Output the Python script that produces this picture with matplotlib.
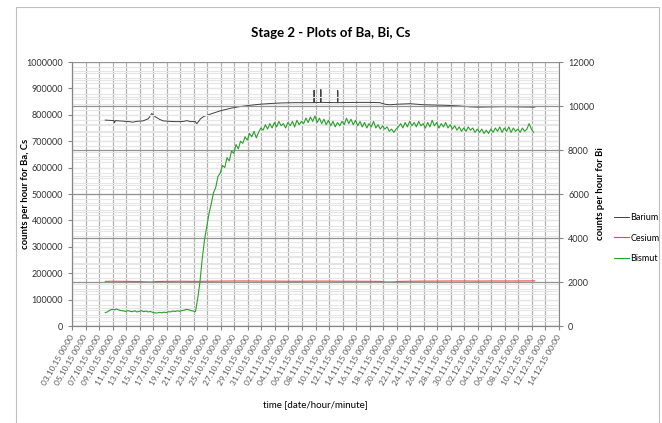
import matplotlib
matplotlib.use('Agg')
import matplotlib.pyplot as plt
import matplotlib.dates as mdates
from matplotlib.patches import Rectangle
from matplotlib.ticker import MultipleLocator, FuncFormatter
import pandas as pd

# ------------------------------------------------------------
# Данные
# ------------------------------------------------------------
barium_times = [
    "07.10.15 22:00", "08.10.15 12:00", "09.10.15 05:00", "09.10.15 07:00", "09.10.15 10:00",
    "10.10.15 12:00", "11.10.15 12:00", "12.10.15 00:00", "12.10.15 12:00", "13.10.15 12:00",
    "14.10.15 07:00", "14.10.15 19:00", "15.10.15 07:00", "16.10.15 00:00", "16.10.15 12:00",
    "17.10.15 12:00", "18.10.15 12:00", "19.10.15 12:00", "20.10.15 00:00", "20.10.15 12:00",
    "21.10.15 05:00", "21.10.15 11:00", "22.10.15 00:00", "22.10.15 12:00", "23.10.15 12:00",
    "24.10.15 22:00", "26.10.15 12:00", "27.10.15 19:00", "29.10.15 00:00", "30.10.15 19:00",
    "01.11.15 12:00", "03.11.15 00:00", "05.11.15 00:00", "07.11.15 18:00", "07.11.15 19:00",
    "07.11.15 20:00", "08.11.15 18:00", "08.11.15 19:00", "08.11.15 20:00", "11.11.15 06:00",
    "11.11.15 07:00", "11.11.15 08:00", "14.11.15 00:00", "16.11.15 00:00", "17.11.15 12:00",
    "18.11.15 07:00", "19.11.15 00:00", "20.11.15 00:00", "22.11.15 00:00", "24.11.15 00:00",
    "25.11.15 12:00", "27.11.15 00:00", "29.11.15 00:00", "01.12.15 00:00", "02.12.15 00:00",
    "04.12.15 00:00", "06.12.15 00:00", "08.12.15 00:00", "10.12.15 10:00",
]
barium_values = [
    780000, 779000, 778000, 770000, 778000,
    776000, 774000, 772000, 775000, 777000,
    785000, 805000, 793000, 782000, 777000,
    775000, 774000, 775000, 778000, 774000,
    775000, 766000, 785000, 794000, 803000,
    815000, 825000, 831000, 835000, 840000,
    843000, 845000, 846000, 846000, 893000,
    846000, 847000, 896000, 847000, 846000,
    892000, 846000, 847000, 847000, 846000,
    840000, 838000, 840000, 842000, 838000,
    837000, 836000, 834000, 830000, 829000,
    830000, 831000, 830000, 829000,
]

cesium_times = [
    "07.10.15 22:00", "09.10.15 00:00", "11.10.15 00:00", "13.10.15 00:00", "14.10.15 12:00",
    "15.10.15 12:00", "17.10.15 00:00", "19.10.15 00:00", "21.10.15 00:00", "23.10.15 00:00",
    "25.10.15 00:00", "27.10.15 00:00", "29.10.15 00:00", "31.10.15 00:00", "02.11.15 00:00",
    "04.11.15 00:00", "06.11.15 00:00", "08.11.15 00:00", "10.11.15 00:00", "12.11.15 00:00",
    "14.11.15 00:00", "17.11.15 12:00", "18.11.15 12:00", "19.11.15 12:00", "20.11.15 12:00",
    "22.11.15 00:00", "24.11.15 00:00", "26.11.15 00:00", "28.11.15 00:00", "30.11.15 00:00",
    "02.12.15 00:00", "04.12.15 00:00", "06.12.15 00:00", "08.12.15 00:00", "10.12.15 10:00",
]
cesium_values = [
    169000, 169500, 169000, 168500, 166500,
    168500, 169000, 169500, 169000, 169500,
    170000, 170500, 170500, 170000, 170000,
    169500, 169500, 170000, 170000, 169500,
    169500, 169000, 166500, 167000, 169000,
    169500, 170000, 170000, 170500, 170500,
    170000, 170500, 170500, 170500, 171000,
]

# Висмут: отсчёты каждые 8 часов начиная с 07.10.15 22:00
bismut_start = "07.10.15 22:00"
bismut_values = [
    610, 640, 720, 760, 740, 770, 730, 700, 690, 660, 700, 670,
    650, 690, 640, 660, 700, 650, 680, 640, 660, 620, 600, 590,
    620, 600, 630, 610, 650, 640, 680, 660, 690, 670, 700, 720,
    760, 740, 700, 680, 650, 1250, 2000, 3050, 3900, 4500, 5100, 5550,
    6050, 6300, 6800, 6950, 7300, 7200, 7650, 7500, 7950, 7850, 8250, 8050,
    8400, 8300, 8600, 8450, 8750, 8600, 8850, 8550, 8800, 9000, 8900, 9150,
    8950, 9200, 9000, 9250, 9050, 9300, 9100, 9200, 9000, 9250, 9100, 9300,
    9050, 9350, 9150, 9300, 9200, 9450, 9250, 9500, 9300, 9550, 9250, 9450,
    9200, 9400, 9150, 9350, 9100, 9300, 9050, 9250, 9100, 9300, 9150, 9450,
    9200, 9400, 9150, 9350, 9100, 9300, 9050, 9250, 9000, 9200, 9050, 9300,
    9000, 9150, 8950, 9100, 8950, 9050, 8850, 8950, 8800, 8950, 9050, 9200,
    9000, 9250, 9050, 9300, 9100, 9250, 9050, 9300, 9100, 9200, 9000, 9250,
    9050, 9350, 9100, 9250, 9000, 9200, 9050, 9250, 9000, 9150, 8950, 9100,
    8900, 9050, 8850, 9000, 8850, 9050, 8900, 9000, 8800, 8950, 8800, 8950,
    8750, 8900, 8750, 8950, 8800, 9000, 8850, 9050, 8800, 9000, 8850, 9050,
    8800, 9000, 8850, 8950, 8800, 9000, 8850, 8950, 9200, 8950, 8800,
]

x_start = "03.10.15 00:00"
x_end = "14.12.15 00:00"

title = "Stage 2 - Plots of Ba, Bi, Cs"
left_ylabel = "counts per hour for Ba, Cs"
right_ylabel = "counts per hour for Bi"
xlabel = "time [date/hour/minute]"

FMT = "%d.%m.%y %H:%M"


def to_dt(values):
    return pd.to_datetime(values, format=FMT)


plt.rcParams['font.family'] = ['Lato', 'DejaVu Sans']

fig = plt.figure(figsize=(6.62, 4.23), dpi=100)
fig.patches.append(Rectangle((16 / 662, 0), 643 / 662, 1 - 7 / 423, transform=fig.transFigure,
                             fill=False, edgecolor='#bfbfbf', linewidth=0.8))

ax = fig.add_axes([72 / 662, 1 - 326 / 423, (559 - 72) / 662, (326 - 62) / 423])
ax2 = ax.twinx()

# оси
ax.set_ylim(0, 1000000)
ax2.set_ylim(0, 12000)
ax.set_xlim(to_dt([x_start])[0], to_dt([x_end])[0])

ax.yaxis.set_major_locator(MultipleLocator(100000))
ax.yaxis.set_minor_locator(MultipleLocator(20000))
ax2.yaxis.set_major_locator(MultipleLocator(2000))
ax2.yaxis.set_minor_locator(MultipleLocator(400))
ax.yaxis.set_major_formatter(FuncFormatter(lambda v, p: f"{int(v)}"))
ax2.yaxis.set_major_formatter(FuncFormatter(lambda v, p: f"{int(v)}"))

ax.xaxis.set_major_locator(mdates.DayLocator(interval=2))
ax.xaxis.set_major_formatter(mdates.DateFormatter(FMT))

# сетка в стиле Excel
ax.grid(which='minor', axis='y', color='#e6e6e6', linewidth=0.8)
ax2.grid(which='minor', axis='y', color='#e6e6e6', linewidth=0.8)
ax.grid(which='major', axis='y', color='#c4c4c4', linewidth=0.8)
ax2.grid(which='major', axis='y', color='#939393', linewidth=0.9)
ax.grid(which='major', axis='x', color='#b0b0b0', linewidth=0.9)
ax.set_axisbelow(True)
ax2.set_axisbelow(True)

for a in (ax, ax2):
    a.spines['top'].set_visible(False)
    a.spines['left'].set_color('#868686')
    a.spines['right'].set_color('#868686')
    a.spines['bottom'].set_color('#868686')
    a.tick_params(which='minor', length=0)
    a.tick_params(which='major', length=3, color='#868686', labelsize=6.5, labelcolor='#333333')
ax2.spines['right'].set_visible(False)

for lab in ax.get_xticklabels():
    lab.set_rotation(60)
    lab.set_ha('right')
    lab.set_va('center')
    lab.set_rotation_mode('anchor')
    lab.set_fontsize(6)
    lab.set_color('#595959')

# линии
ax.plot(to_dt(barium_times), barium_values, color='#404040', linewidth=0.7, label='Barium')
ax.plot(to_dt(cesium_times), cesium_values, color='#e84a4a', linewidth=0.8, label='Cesium')
bi_times = pd.date_range(to_dt([bismut_start])[0], periods=len(bismut_values), freq='8h')
ax2.plot(bi_times, bismut_values, color='#2ca02c', linewidth=0.8, label='Bismut')

# подписи
fig.text(0.5, 1 - 33 / 423, title, ha='center', va='center', fontsize=9.5, fontweight='bold')
ax.set_ylabel(left_ylabel, fontsize=6.8, fontweight='bold')
ax.yaxis.set_label_coords((30 - 72) / 487, 0.5)
ax2.set_ylabel(right_ylabel, fontsize=6.8, fontweight='bold', rotation=90)
ax2.yaxis.set_label_coords((596 - 72) / 487, 0.5)
fig.text(315 / 662, 1 - 405 / 423, xlabel, ha='center', va='center', fontsize=7)

# легенда
lines = ax.get_lines() + ax2.get_lines()
fig.legend(lines, [l.get_label() for l in lines], loc='center left',
           bbox_to_anchor=(606 / 662, 1 - 238 / 423), frameon=False, fontsize=6.5,
           handlelength=1.6, handletextpad=0.2, labelspacing=1.3)

fig.savefig('out.png', dpi=100)
